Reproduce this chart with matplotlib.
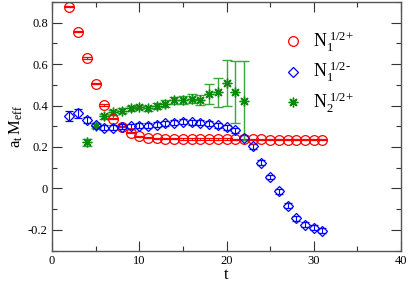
import matplotlib
matplotlib.use("Agg")
import matplotlib.pyplot as plt
from matplotlib.lines import Line2D
from matplotlib.ticker import MultipleLocator

plt.rcParams['font.family'] = ['Liberation Serif', 'DejaVu Serif']
plt.rcParams['mathtext.fontset'] = 'custom'
plt.rcParams['mathtext.rm'] = 'Liberation Serif'
plt.rcParams['mathtext.it'] = 'Liberation Serif:italic'

# N1 1/2+ (red circles)
t_red = list(range(2, 32))
y_red = [0.877, 0.757, 0.629, 0.505, 0.403, 0.337, 0.297, 0.268, 0.252, 0.244,
         0.241, 0.240, 0.240, 0.239, 0.239, 0.239, 0.238, 0.238, 0.238, 0.237,
         0.237, 0.237, 0.237, 0.236, 0.236, 0.236, 0.236, 0.236, 0.236, 0.236]
e_red = [0.003] * len(t_red)

# N1 1/2- (blue diamonds)
t_blue = list(range(2, 32))
y_blue = [0.348, 0.362, 0.329, 0.306, 0.292, 0.292, 0.298, 0.300, 0.303, 0.303,
          0.308, 0.314, 0.318, 0.322, 0.320, 0.316, 0.312, 0.304, 0.296, 0.280,
          0.245, 0.203, 0.124, 0.055, -0.015, -0.085, -0.144, -0.176, -0.189, -0.205]
e_blue = [0.025, 0.02, 0.015, 0.012, 0.012, 0.012, 0.012, 0.012, 0.012, 0.012,
          0.012, 0.012, 0.012, 0.012, 0.012, 0.012, 0.012, 0.012, 0.012, 0.012,
          0.012, 0.012, 0.012, 0.012, 0.012, 0.012, 0.012, 0.012, 0.012, 0.012]

# N2 1/2+ (green stars)
t_green = list(range(4, 23))
y_green = [0.223, 0.303, 0.348, 0.367, 0.375, 0.388, 0.393, 0.388, 0.396, 0.409,
           0.425, 0.428, 0.432, 0.428, 0.457, 0.463, 0.510, 0.466, 0.424]
e_green = [0.016, 0.012, 0.012, 0.012, 0.012, 0.012, 0.012, 0.012, 0.014, 0.016,
           0.018, 0.02, 0.022, 0.025, 0.048, 0.07, 0.112, 0.15, 0.19]

labels = [r'$\mathrm{N}_1^{\ 1/2{+}}$', '$\\mathrm{N}_1^{\\ 1/2\u2010}$', r'$\mathrm{N}_2^{\ 1/2{+}}$']
xticks = [0, 10, 20, 30, 40]
yticks = [-0.2, 0, 0.2, 0.4, 0.6, 0.8]

fig = plt.figure(figsize=(4.09, 2.82), dpi=100)
ax = fig.add_axes([52/409, 1-250.5/282, (401-52)/409, (250.5-2)/282])

red = '#ff0000'
blue = '#0000ff'
green = '#0a8a0a'
green_bar = '#3aa83a'

ax.errorbar(t_red, y_red, yerr=e_red, fmt='o', ms=7, mfc='none', mec=red, mew=0.9,
            ecolor=red, elinewidth=0.8, capsize=3.5, capthick=0.8)
ax.errorbar(t_blue, y_blue, yerr=e_blue, fmt='D', ms=5.5, mfc='none', mec=blue, mew=0.9,
            ecolor=blue, elinewidth=0.8, capsize=3.0, capthick=0.8)
ax.errorbar(t_green, y_green, yerr=e_green, fmt='none', ecolor=green_bar,
            elinewidth=1.0, capsize=3.5, capthick=1.0)
ax.plot(t_green, y_green, linestyle='none', marker=(8, 2, 0), ms=7, mec=green, mew=1.0)

ax.set_xlim(0, 40)
ax.set_ylim(-0.3, 0.9)
ax.set_xticks(xticks)
ax.set_yticks(yticks)
ax.set_xticklabels([str(v) for v in xticks])
ax.set_yticklabels(['-0.2', '0', '0.2', '0.4', '0.6', '0.8'])
ax.xaxis.set_minor_locator(MultipleLocator(5))
ax.yaxis.set_minor_locator(MultipleLocator(0.1))
ax.tick_params(which='both', direction='in', top=True, right=True, labelsize=9,
               color='#333333', width=0.8, pad=3)
ax.tick_params(which='major', length=7)
ax.tick_params(which='minor', length=3.5)
for s in ax.spines.values():
    s.set_color('#555555')
    s.set_linewidth(1.0)

ax.set_xlabel('t', fontsize=12, labelpad=0)
ax.set_ylabel(r'$\mathrm{a_t\,M_{eff}}$', fontsize=12, labelpad=2)

handles = [
    Line2D([], [], linestyle='none', marker='o', ms=7, mfc='none', mec=red, mew=0.9),
    Line2D([], [], linestyle='none', marker='D', ms=5.5, mfc='none', mec=blue, mew=0.9),
    Line2D([], [], linestyle='none', marker=(8, 2, 0), ms=7, mec=green, mew=1.0),
]
ax.legend(handles, labels, loc='upper left', bbox_to_anchor=(0.645, 0.92), frameon=False,
          fontsize=13, labelspacing=0.35, handlelength=1.0, handletextpad=0.6,
          borderaxespad=0.0)

fig.savefig('out.png', dpi=100)
